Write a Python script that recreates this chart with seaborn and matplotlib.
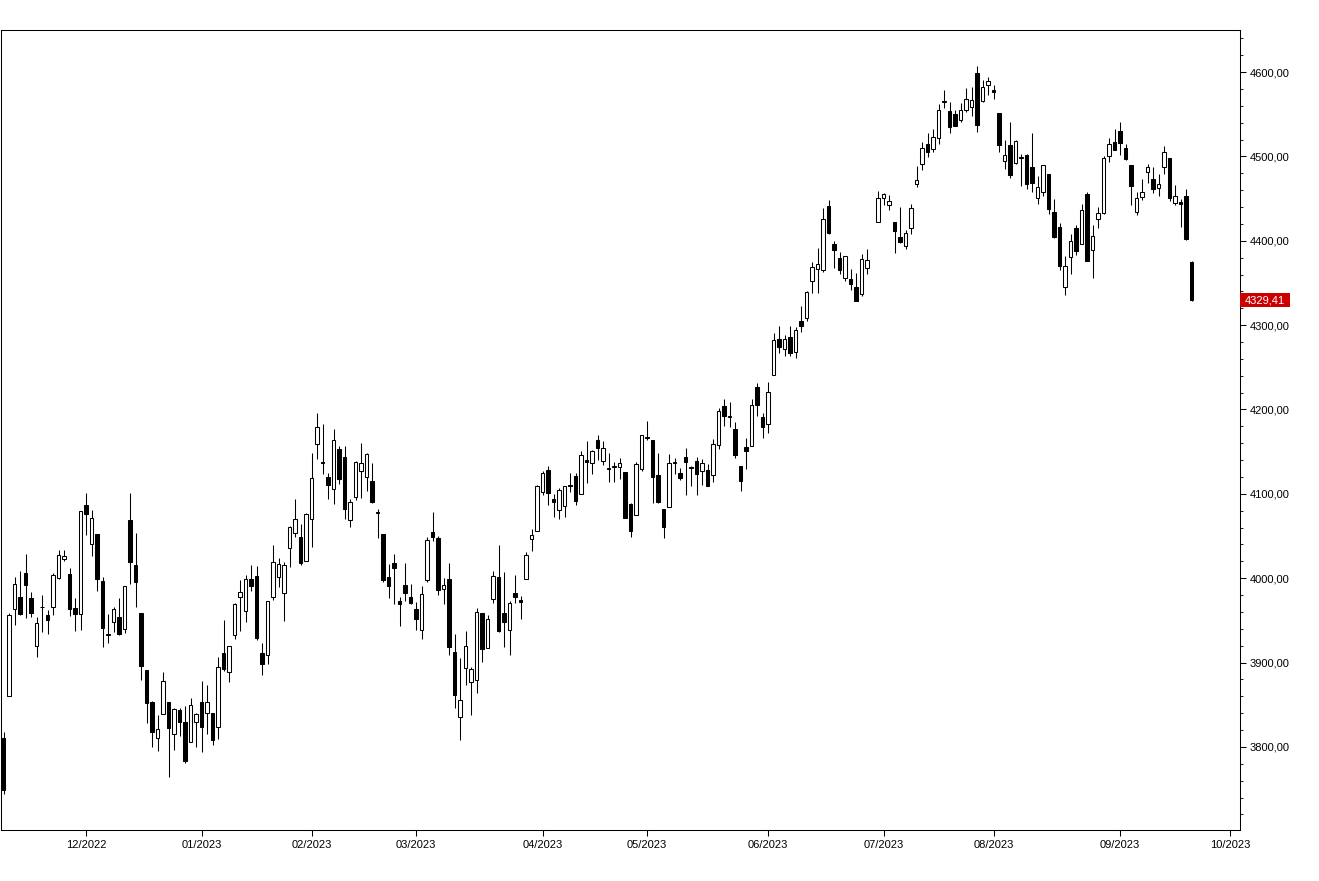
import numpy as np
import pandas as pd
import matplotlib
matplotlib.use('Agg')
import matplotlib.pyplot as plt
import matplotlib.transforms as mtransforms
from matplotlib.patches import Rectangle
from matplotlib.ticker import MultipleLocator, FuncFormatter, FixedLocator
import seaborn as sns

# биржевые праздники (дни без торгов)
holidays = ['2022-11-24', '2022-12-26', '2023-01-02', '2023-01-16', '2023-02-20',
            '2023-04-07', '2023-05-29', '2023-06-19', '2023-07-04', '2023-09-04']

# NOTE: для 29.06.2023 на графике свечи нет (место пустое) -> None
# цены открытия (по месяцам: 11/2022 ... 09/2023)
opens = [
    3810.94, 3859.89, 3963.72, 3977.97, 4006.41, 3976.82, 3919.26, 3966.39, 3956.23, 3965.51, 4000.30, 4023.34, 4005.36, 3964.19, 3957.18,
    4087.14, 4040.17, 4052.02, 3996.63, 3933.28, 3947.79, 3954.17, 3939.29, 4069.38, 4015.54, 3958.37, 3890.91, 3853.79, 3810.47, 3839.49, 3853.26, 3815.11, 3843.34, 3829.56, 3805.45, 3829.06,
    3853.29, 3840.36, 3839.74, 3823.37, 3910.82, 3888.57, 3932.35, 3977.57, 3960.60, 3999.28, 4002.25, 3911.84, 3909.04, 3978.14, 4001.74, 3982.71, 4036.08, 4053.72, 4049.27, 4020.85,
    4070.07, 4158.68, 4136.69, 4119.57, 4105.35, 4153.10, 4144.25, 4068.92, 4096.62, 4126.70, 4119.50, 4114.75, 4077.39, 4052.35, 4001.83, 4018.60, 3973.24, 3992.36, 3977.19,
    3963.34, 3938.68, 3998.02, 4055.15, 4048.26, 3987.55, 3998.66, 3912.77, 3835.12, 3894.01, 3876.74, 3878.93, 3958.69, 3917.47, 3975.89, 4002.04, 3959.21, 3939.21, 3982.93, 3974.13, 3999.53, 4046.74, 4056.18,
    4102.20, 4128.03, 4094.50, 4081.15, 4085.20, 4110.29, 4121.72, 4100.04, 4140.11, 4137.17, 4164.26, 4139.33, 4130.48, 4132.14, 4132.07, 4126.43, 4087.78, 4075.29, 4129.63,
    4166.79, 4164.10, 4122.25, 4082.61, 4084.73, 4136.98, 4124.25, 4143.74, 4132.24, 4138.54, 4126.65, 4127.95, 4122.85, 4157.68, 4204.15, 4190.78, 4176.80, 4132.96, 4155.71, 4156.16, 4226.71, 4190.74,
    4183.03, 4241.01, 4282.99, 4271.34, 4285.47, 4268.69, 4304.88, 4308.32, 4352.61, 4366.29, 4365.33, 4440.95, 4396.11, 4380.01, 4355.40, 4354.17, 4344.84, 4337.36, 4367.48, None, 4422.44,
    4450.48, 4442.04, 4422.62, 4404.54, 4394.23, 4415.55, 4467.69, 4491.50, 4514.61, 4508.86, 4521.78, 4563.87, 4554.38, 4550.16, 4543.39, 4555.19, 4558.96, 4598.26, 4565.75, 4584.82,
    4578.83, 4550.93, 4494.27, 4513.96, 4491.58, 4498.03, 4501.57, 4487.16, 4450.69, 4458.13, 4478.87, 4433.79, 4416.32, 4344.88, 4380.28, 4415.33, 4396.44, 4455.16, 4389.38, 4426.03, 4432.75, 4500.34, 4517.01,
    4530.60, 4510.06, 4490.35, 4434.55, 4451.30, 4480.98, 4473.27, 4462.65, 4487.78, 4497.98, 4445.13, 4445.41, 4452.81, 4374.36,
]
# максимумы
highs = [
    3818.20, 3958.33, 4001.48, 4008.97, 4028.84, 3983.47, 3954.33, 3979.89, 3962.00, 4005.88, 4033.78, 4034.02, 4012.27, 3976.77, 4080.11,
    4100.51, 4080.48, 4052.45, 4001.51, 3957.57, 3966.38, 3977.02, 3990.71, 4100.96, 4053.76, 3958.37, 3890.91, 3854.86, 3838.24, 3889.28, 3853.26, 3845.80, 3846.65, 3848.32, 3858.19, 3839.85,
    3878.46, 3873.16, 3839.74, 3906.19, 3950.57, 3919.83, 3970.07, 3997.76, 4003.95, 4015.39, 4014.16, 3922.94, 3972.96, 4039.31, 4023.92, 4019.55, 4061.57, 4094.21, 4063.85, 4077.16,
    4148.95, 4195.44, 4182.36, 4124.63, 4176.54, 4156.85, 4156.23, 4094.36, 4138.90, 4159.77, 4148.11, 4136.54, 4081.51, 4052.35, 4017.37, 4028.30, 3978.25, 4018.05, 3993.40,
    3971.73, 3990.84, 4048.29, 4078.49, 4050.00, 4000.41, 4017.81, 3934.05, 3905.05, 3937.29, 3894.26, 3964.46, 3958.91, 3956.62, 4009.08, 4039.49, 4007.66, 3972.74, 4003.83, 3979.20, 4030.59, 4057.85, 4110.75,
    4127.66, 4133.13, 4099.69, 4107.32, 4109.50, 4124.26, 4124.36, 4150.26, 4163.19, 4151.72, 4169.48, 4162.57, 4148.57, 4138.02, 4142.41, 4126.43, 4089.67, 4138.24, 4170.06,
    4186.92, 4164.10, 4148.30, 4082.61, 4147.02, 4142.30, 4130.35, 4154.28, 4132.80, 4143.74, 4141.25, 4135.54, 4164.67, 4202.20, 4212.91, 4209.22, 4185.68, 4132.96, 4165.74, 4212.87, 4231.10, 4195.44,
    4232.43, 4290.67, 4299.28, 4288.33, 4299.19, 4298.01, 4322.62, 4340.13, 4375.37, 4391.82, 4439.20, 4448.47, 4400.15, 4386.22, 4382.25, 4366.55, 4362.06, 4384.42, 4390.35, None, 4458.48,
    4456.46, 4454.06, 4422.62, 4440.39, 4412.60, 4443.64, 4488.34, 4517.38, 4527.76, 4532.85, 4562.30, 4578.43, 4564.74, 4555.00, 4563.41, 4580.62, 4582.47, 4607.07, 4590.16, 4594.22,
    4584.62, 4550.93, 4519.49, 4540.34, 4519.84, 4503.31, 4502.44, 4527.37, 4476.23, 4490.33, 4478.87, 4449.95, 4421.17, 4381.82, 4407.55, 4418.59, 4443.18, 4458.30, 4418.46, 4439.56, 4500.14, 4521.65, 4532.26,
    4541.25, 4514.29, 4490.35, 4457.81, 4473.53, 4490.77, 4487.11, 4479.39, 4511.99, 4497.98, 4466.36, 4449.85, 4461.03, 4375.70,
]
# минимумы
lows = [
    3744.22, 3859.89, 3944.82, 3956.40, 3953.17, 3954.34, 3906.54, 3935.98, 3933.34, 3956.88, 3998.66, 4020.76, 3955.77, 3937.65, 3938.58,
    4050.87, 4026.63, 3984.49, 3918.39, 3922.68, 3935.83, 3933.04, 3935.30, 3993.03, 3965.65, 3879.45, 3827.91, 3800.04, 3795.62, 3839.49, 3764.49, 3797.01, 3813.22, 3780.78, 3805.45, 3800.34,
    3794.33, 3815.77, 3802.42, 3809.56, 3890.42, 3877.29, 3928.54, 3937.56, 3947.67, 3984.57, 3926.59, 3885.54, 3897.86, 3973.75, 3989.79, 3949.06, 4013.29, 4048.70, 4015.55, 4020.44,
    4037.20, 4141.55, 4123.36, 4093.38, 4088.39, 4111.67, 4069.67, 4060.79, 4092.67, 4095.01, 4103.98, 4089.43, 4047.95, 3995.19, 3976.90, 3969.19, 3943.08, 3973.55, 3968.98,
    3939.05, 3928.16, 3995.17, 4044.61, 3980.31, 3969.76, 3908.70, 3846.32, 3808.86, 3873.63, 3838.24, 3864.11, 3901.27, 3916.89, 3971.19, 3936.17, 3919.05, 3909.16, 3970.49, 3951.53, 3999.53, 4032.10, 4056.18,
    4098.79, 4086.87, 4072.56, 4069.84, 4072.55, 4102.61, 4086.94, 4099.40, 4113.20, 4123.18, 4140.36, 4134.49, 4114.57, 4113.86, 4117.77, 4071.38, 4049.35, 4075.29, 4127.18,
    4164.12, 4089.72, 4088.86, 4048.28, 4084.73, 4123.81, 4116.65, 4098.92, 4109.29, 4099.12, 4110.27, 4109.86, 4113.62, 4153.50, 4180.20, 4179.68, 4142.54, 4103.98, 4129.73, 4156.16, 4192.18, 4166.15,
    4171.64, 4241.01, 4266.82, 4263.09, 4263.96, 4261.07, 4291.70, 4304.37, 4337.66, 4337.85, 4362.60, 4407.44, 4367.19, 4360.14, 4351.82, 4341.34, 4328.08, 4335.00, 4360.22, None, 4422.44,
    4442.29, 4436.61, 4385.05, 4397.40, 4389.92, 4408.46, 4463.23, 4483.44, 4499.56, 4504.90, 4514.59, 4557.48, 4527.56, 4535.79, 4541.29, 4552.42, 4547.58, 4528.56, 4564.01, 4573.14,
    4567.53, 4505.75, 4485.54, 4474.55, 4491.15, 4464.39, 4461.33, 4457.92, 4443.98, 4453.44, 4432.19, 4403.55, 4364.83, 4335.31, 4360.30, 4382.77, 4396.44, 4375.55, 4356.29, 4414.98, 4431.68, 4493.59, 4507.39,
    4501.35, 4496.01, 4442.38, 4430.46, 4448.38, 4467.89, 4456.83, 4453.52, 4478.69, 4447.21, 4442.11, 4416.61, 4401.38, 4329.17,
]
# цены закрытия
closes = [
    3748.57, 3956.37, 3992.93, 3957.25, 3991.73, 3958.79, 3946.56, 3965.34, 3949.94, 4003.58, 4027.26, 4026.12, 3963.94, 3957.63, 4080.11,
    4076.57, 4071.70, 3998.84, 3941.26, 3933.92, 3963.51, 3934.38, 3990.56, 4019.65, 3995.32, 3895.75, 3852.36, 3817.66, 3821.62, 3878.44, 3822.39, 3844.82, 3829.25, 3783.22, 3849.28, 3839.50,
    3824.14, 3852.97, 3808.10, 3895.08, 3892.09, 3919.25, 3969.61, 3983.17, 3999.09, 3990.97, 3928.86, 3898.85, 3972.61, 4019.81, 4016.95, 4016.22, 4060.43, 4070.56, 4017.77, 4076.60,
    4119.21, 4179.76, 4136.48, 4111.08, 4164.00, 4117.86, 4081.50, 4090.46, 4137.29, 4136.13, 4147.60, 4090.41, 4079.09, 3997.34, 3991.05, 4012.32, 3970.04, 3982.24, 3970.15,
    3951.39, 3981.35, 4045.64, 4048.42, 3986.37, 3992.01, 3918.32, 3861.59, 3855.76, 3919.29, 3891.93, 3960.28, 3916.64, 3951.57, 4002.87, 3936.97, 3948.72, 3970.99, 3977.53, 3971.27, 4027.81, 4050.83, 4109.31,
    4124.51, 4100.60, 4090.38, 4105.02, 4109.11, 4108.94, 4091.95, 4146.22, 4137.64, 4151.32, 4154.87, 4154.52, 4129.79, 4133.52, 4137.04, 4071.63, 4055.99, 4135.35, 4169.48,
    4167.87, 4119.58, 4090.75, 4061.22, 4136.25, 4138.12, 4119.17, 4137.64, 4130.62, 4124.08, 4136.28, 4109.90, 4158.77, 4198.05, 4191.98, 4192.63, 4145.58, 4115.24, 4151.28, 4205.45, 4205.52, 4179.83,
    4221.02, 4282.37, 4273.79, 4283.85, 4267.52, 4293.93, 4298.86, 4338.93, 4369.01, 4372.59, 4425.84, 4409.59, 4388.71, 4365.69, 4381.89, 4348.33, 4328.82, 4378.41, 4376.86, None, 4450.38,
    4455.59, 4446.82, 4411.59, 4398.95, 4409.53, 4439.26, 4472.16, 4510.04, 4505.42, 4522.79, 4554.98, 4565.72, 4534.87, 4536.34, 4554.64, 4567.46, 4566.75, 4537.41, 4582.23, 4588.96,
    4576.73, 4513.39, 4501.89, 4478.03, 4518.44, 4499.38, 4467.71, 4468.83, 4464.05, 4489.72, 4437.86, 4404.33, 4370.36, 4369.71, 4399.77, 4387.55, 4436.01, 4376.31, 4405.71, 4433.31, 4497.63, 4514.87, 4507.66,
    4515.77, 4496.83, 4465.48, 4451.14, 4457.49, 4487.46, 4461.90, 4467.44, 4505.10, 4450.32, 4453.53, 4443.95, 4402.20, 4329.41,
]

# торговые дни, включая будущие (нужны для засечки 10/2023)
bday = pd.offsets.CustomBusinessDay(holidays=holidays)
days = pd.date_range('2022-11-09', '2023-10-06', freq=bday)

df = pd.DataFrame({'open': opens, 'high': highs, 'low': lows, 'close': closes}, dtype=float)
df['date'] = days[:len(df)]
df['x'] = np.arange(len(df))
# пропущенные дни не рисуем, но место под них оставляем
df = df.dropna(subset=['open', 'close'])
df['up'] = df['close'] >= df['open']
df['bottom'] = df[['open', 'close']].min(axis=1)
# минимальная высота тела, чтобы доджи были видны
df['height'] = (df['close'] - df['open']).abs().clip(lower=0.9)

# засечки: первый торговый день каждого месяца
month_start = pd.Series(days).dt.to_period('M')
first_idx = np.where(month_start.values[1:] != month_start.values[:-1])[0] + 1
tick_pos = list(first_idx)
tick_lab = [days[i].strftime('%m/%Y') for i in first_idx]

sns.set_theme(style='white')
plt.rcParams['font.family'] = ['Liberation Sans', 'DejaVu Sans']

W, H = 1319, 881
fig = plt.figure(figsize=(W / 100, H / 100), dpi=100)
ax = fig.add_axes([1 / W, 51 / H, 1239 / W, 800 / H])

lw = 0.75
# тени свечей
ax.vlines(df['x'], df['low'], df['high'], color='black', linewidth=lw, zorder=1)
# белые (растущие) свечи
up = df[df['up']]
ax.bar(up['x'], up['height'], bottom=up['bottom'], width=0.6,
       color='white', edgecolor='black', linewidth=lw, zorder=2)
# чёрные (падающие) свечи
dn = df[~df['up']]
ax.bar(dn['x'], dn['height'], bottom=dn['bottom'], width=0.6,
       color='black', edgecolor='black', linewidth=lw, zorder=2)

# пределы осей
ax.set_xlim(-0.455, 224.8)
ax.set_ylim(3701.6, 4649.8)

# ось цен справа
ax.yaxis.tick_right()
ax.yaxis.set_major_locator(MultipleLocator(100))
ax.yaxis.set_minor_locator(MultipleLocator(20))
ax.yaxis.set_major_formatter(FuncFormatter(lambda v, p: f'{v:.2f}'.replace('.', ',')))
ax.xaxis.set_major_locator(FixedLocator(tick_pos))
ax.set_xticklabels(tick_lab)

ax.tick_params(axis='both', which='major', direction='out', length=4, width=lw,
               labelsize=8, colors='black', pad=3)
ax.tick_params(axis='y', which='minor', direction='out', length=2, width=lw, right=True, left=False)
ax.tick_params(axis='x', bottom=True)
ax.tick_params(axis='y', right=True, left=False)
for s in ax.spines.values():
    s.set_color('black')
    s.set_linewidth(lw)

# метка последней цены: красная плашка у правой оси
last = df['close'].iloc[-1]
trans = mtransforms.blended_transform_factory(ax.transAxes, ax.transData)
box_w = 50 / 1239
box_h = 14 / 0.84375
ax.add_patch(Rectangle((1.0, last - box_h / 2), box_w, box_h, transform=trans,
                       facecolor='#cc0000', edgecolor='none', clip_on=False, zorder=5))
ax.text(1.0 + box_w / 2, last, f'{last:.2f}'.replace('.', ','), transform=trans,
        ha='center', va='center', color='white', fontsize=8, zorder=6)

fig.savefig('out.png', dpi=100)
